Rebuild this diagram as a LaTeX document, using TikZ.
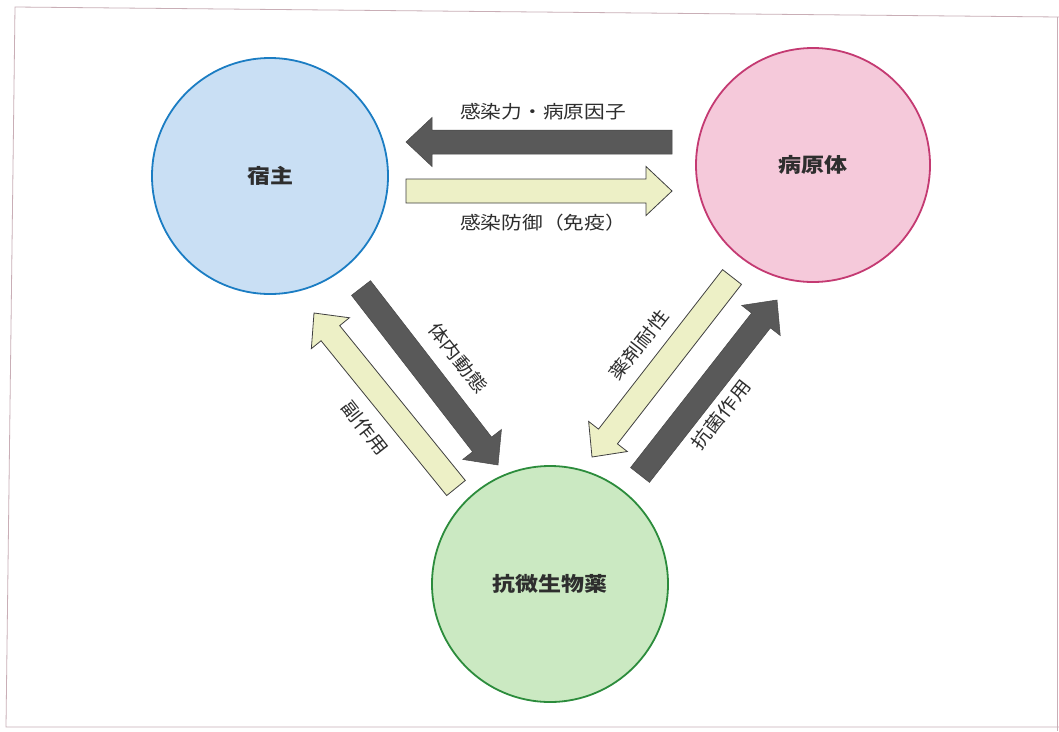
\documentclass[tikz,border=0pt]{standalone}
\usepackage{fontspec}
\setmainfont[FakeStretch=1.15]{Noto Sans CJK JP}
\usetikzlibrary{calc}
\definecolor{hostfill}{HTML}{C9DFF4}
\definecolor{hostline}{HTML}{1B7DC3}
\definecolor{pathfill}{HTML}{F5C9DA}
\definecolor{pathline}{HTML}{C43A72}
\definecolor{drugfill}{HTML}{CBE9C2}
\definecolor{drugline}{HTML}{2C8C3C}
\definecolor{darkarrow}{HTML}{595959}
\definecolor{lightarrow}{HTML}{EDF0C6}
\definecolor{txt}{HTML}{2E2E2E}
\definecolor{framec}{HTML}{C9AEB6}
\newcommand\blockarrow[3]{%
  \path ($(#3)!26pt!(#2)$) coordinate (hb);
  \draw[#1] ($(#2)!12pt!90:(#3)$) -- ($(hb)!12pt!90:(#3)$) -- ($(hb)!24.5pt!90:(#3)$) -- (#3) -- ($(hb)!24.5pt!-90:(#3)$) -- ($(hb)!12pt!-90:(#3)$) -- ($(#2)!12pt!-90:(#3)$) -- cycle;
}
\tikzset{
  blob/.style={circle, minimum size=#1, line width=1.8pt, inner sep=0pt, text=txt, font=\fontsize{20}{22}\selectfont\bfseries},
  darkarr/.style={fill=darkarrow, draw=darkarrow!80!black, line width=0.5pt},
  lightarr/.style={fill=lightarrow, draw=black!75, line width=0.8pt},
  lbl/.style={text=txt, font=\fontsize{18}{20}\selectfont, inner sep=0pt},
  frameline/.style={draw=framec, line width=0.8pt}
}
\begin{document}
\begin{tikzpicture}[x=1pt,y=-1pt]
\useasboundingbox (0,0) rectangle (1059,731);
\fill[white] (0,0) rectangle (1059,731);
% frame
\coordinate (f1) at (15,7);
\coordinate (f2) at (1059,17);
\coordinate (f3) at (1057,731);
\coordinate (f4) at (6,727);
\draw[frameline] (f2) -- (f1) -- (f4) -- (1059,727);
\draw[frameline] (1057,17) -- (f3);
% circles
\node[blob=236pt, fill=hostfill, draw=hostline] (host) at (270,176) {宿主};
\node[blob=234pt, fill=pathfill, draw=pathline] (path) at (813,165) {病原体};
\node[blob=236pt, fill=drugfill, draw=drugline] (drug) at (550,584) {抗微生物薬};
% arrow end points
\coordinate (t1s) at (672,142);
\coordinate (t1e) at (406,142);
\coordinate (t2s) at (406,191);
\coordinate (t2e) at (672,191);
\coordinate (l1s) at (361,288);
\coordinate (l1e) at (498,465);
\coordinate (l2s) at (456,488);
\coordinate (l2e) at (314,313);
\coordinate (r1s) at (732,277);
\coordinate (r1e) at (592,457);
\coordinate (r2s) at (640,475);
\coordinate (r2e) at (777,300);
\blockarrow{darkarr}{t1s}{t1e}
\blockarrow{lightarr}{t2s}{t2e}
\blockarrow{darkarr}{l1s}{l1e}
\blockarrow{lightarr}{l2s}{l2e}
\blockarrow{lightarr}{r1s}{r1e}
\blockarrow{darkarr}{r2s}{r2e}
% labels
\node[lbl] (lt1) at (543,112) {感染力・病原因子};
\node[lbl] (lt2) at (543,223) {感染防御（免疫）};
\node[lbl, rotate=-52] (ll1) at (458,358) {体内動態};
\node[lbl, rotate=-52] (ll2) at (365,428) {副作用};
\node[lbl, rotate=52] (lr1) at (639,345) {薬剤耐性};
\node[lbl, rotate=52] (lr2) at (721,415) {抗菌作用};
\end{tikzpicture}
\end{document}
